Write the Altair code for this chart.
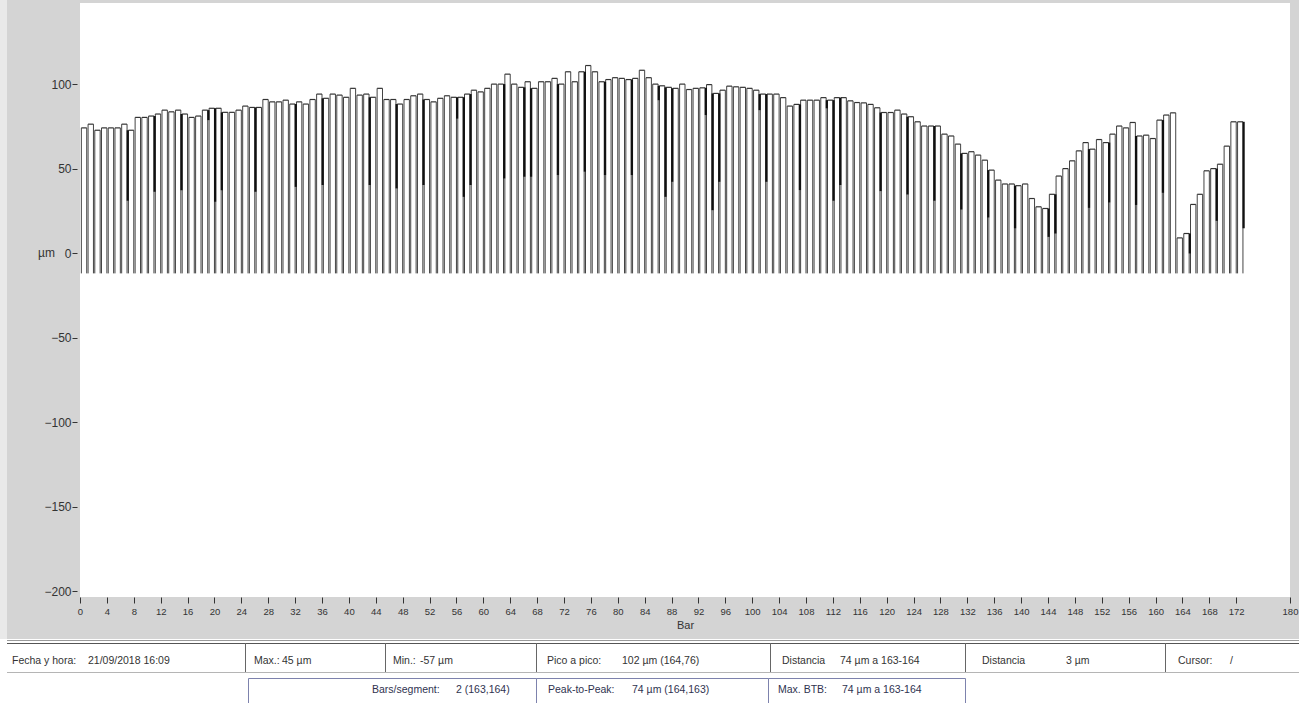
import altair as alt
import pandas as pd

# Bar heights (µm), bars 1..173
bar_values = [
    74.1, 76.3, 72.7, 74.1, 74.1, 74.1, 76.3, 72.7, 80.3, 80.3,
    81.1, 82.3, 84.6, 83.6, 84.6, 82.3, 80.3, 81.1, 84.6, 85.7,
    85.7, 83.3, 83.3, 84.6, 87.0, 86.2, 86.2, 90.9, 89.5, 89.5,
    90.5, 88.2, 89.5, 88.2, 90.9, 94.1, 91.6, 94.1, 93.5, 92.2,
    97.5, 93.5, 94.1, 92.2, 97.5, 90.9, 90.9, 88.2, 90.9, 93.1,
    94.1, 90.9, 89.5, 91.6, 93.1, 92.2, 92.2, 94.1, 96.4, 95.4,
    97.5, 100.0, 100.0, 105.9, 100.0, 98.1, 101.4, 97.5, 101.4, 101.4,
    103.4, 100.0, 107.3, 101.4, 107.3, 111.0, 107.3, 101.4, 102.7, 103.8,
    103.4, 102.7, 103.4, 108.2, 103.8, 100.0, 99.0, 98.1, 97.5, 100.0,
    96.8, 97.5, 97.8, 99.7, 94.5, 96.4, 98.8, 98.4, 98.1, 97.5,
    96.4, 94.1, 94.1, 94.1, 92.0, 87.0, 88.0, 90.5, 90.5, 90.5,
    92.0, 90.5, 92.0, 92.0, 90.1, 89.1, 88.9, 88.0, 86.0, 83.2,
    83.2, 84.6, 82.3, 80.7, 77.7, 75.2, 75.2, 75.2, 70.4, 69.3,
    64.5, 59.0, 60.0, 58.0, 55.0, 49.1, 43.2, 40.9, 40.9, 39.9,
    40.9, 32.3, 27.4, 26.4, 34.8, 45.6, 50.0, 54.6, 60.5, 65.4,
    61.5, 67.2, 65.4, 70.4, 75.2, 74.1, 77.3, 69.3, 69.8, 67.8,
    78.7, 81.7, 83.0, 9.0, 11.6, 28.8, 34.8, 48.7, 50.0, 52.6,
    63.3, 77.7, 77.7,
]
bar_floor = -12.0

# Dark joint lines: drawn between bar k and bar k+1, down to the given level (µm)
joint_after = [
    7, 11, 15, 19, 20, 21, 26, 32, 36, 43,
    47, 51, 56, 57, 58, 63, 66, 67, 71, 75,
    78, 82, 86, 87, 88, 93, 94, 95, 101, 102,
    107, 111, 112, 113, 119, 123, 127, 131, 135, 139,
    144, 145, 150, 153, 157, 161, 165, 169, 173,
]
joint_low = [
    31.0, 36.3, 37.2, 78.7, 30.4, 37.2, 36.3, 39.2, 40.3, 40.3,
    38.3, 40.3, 79.6, 33.3, 40.3, 44.2, 45.2, 45.2, 46.2, 48.2,
    46.2, 46.2, 90.5, 33.3, 42.2, 81.7, 25.4, 42.2, 84.6, 42.2,
    37.3, 85.7, 31.0, 40.3, 36.7, 34.7, 31.0, 25.8, 21.1, 14.7,
    9.6, 11.6, 26.8, 30.0, 28.5, 35.7, -0.2, 19.1, 14.7,
]

y_ticks = [-200, -150, -100, -50, 0, 50, 100]
x_ticks = list(range(0, 173, 4)) + [180]

# Footer read-outs
row1_labels = ["Fecha y hora:", "21/09/2018 16:09", "Max.:", "45 µm", "Min.:", "-57 µm",
               "Pico a pico:", "102 µm (164,76)", "Distancia", "74 µm a 163-164",
               "Distancia", "3 µm", "Cursor:", "/"]
row2_labels = ["Bars/segment:", "2 (163,164)", "Peak-to-Peak:", "74 µm (164,163)",
               "Max. BTB:", "74 µm a 163-164"]

# ---- layout (pixels, relative to the plot area's top-left corner) ----
PLOT_LEFT, PLOT_TOP = 80, 3
W, H = 1210, 594
row1_x = [12, 88, 254, 282, 393, 420, 547, 622, 782, 840, 982, 1066, 1178, 1230]
row2_x = [372, 456, 548, 632, 778, 842]
row1_y, row2_y = 661, 690
row1_seps = [245, 385, 536, 770, 965, 1165]
row2_boxes = [(248, 536), (536, 768), (768, 965)]

FONT = "Liberation Sans"

n = len(bar_values)
bars = pd.DataFrame({
    "bar": list(range(1, n + 1)),
    "value": bar_values,
})
bars["x0"] = bars["bar"] - 0.8
bars["x1"] = bars["bar"] + 0.0
bars["floor"] = bar_floor

joints = pd.DataFrame({"after": joint_after, "low": joint_low})
joints["xe"] = joints["after"] + 0.1
joints["top"] = [
    min(bar_values[k - 1], bar_values[k]) if k < n else bar_values[k - 1]
    for k in joint_after
]

xs = alt.Scale(domain=[0, 180], nice=False, zero=False)
ys = alt.Scale(domain=[-203.5, 148], nice=False, zero=False)

x_axis = alt.Axis(values=x_ticks, title="Bar", grid=False, domain=False,
                  tickSize=6, tickColor="#333", labelFont=FONT, labelFontSize=9.5,
                  labelColor="#333", labelPadding=3, titleFont=FONT,
                  titleFontSize=11, titleFontWeight="normal", titleColor="#333",
                  titlePadding=4, labelFlush=False, labelOverlap=False)
y_axis = alt.Axis(values=y_ticks, title=None, grid=False, domain=False,
                  tickSize=5, tickColor="#333", offset=3, labelFont=FONT,
                  labelFontSize=12, labelColor="#333", labelPadding=1,
                  labelOverlap=False)

base = alt.Chart(bars)

left_edges = base.mark_rule(color="#444", strokeWidth=1).encode(
    x=alt.X("x0:Q", scale=xs, axis=x_axis),
    y=alt.Y("floor:Q", scale=ys, axis=y_axis),
    y2="value:Q",
)
right_edges = base.mark_rule(color="#444", strokeWidth=1).encode(
    x=alt.X("x1:Q", scale=xs, axis=None),
    y=alt.Y("floor:Q", scale=ys, axis=None),
    y2="value:Q",
)
tops = base.mark_rule(color="#333", strokeWidth=1.2).encode(
    x=alt.X("x0:Q", scale=xs, axis=None), x2="x1:Q",
    y=alt.Y("value:Q", scale=ys, axis=None),
)
dark = alt.Chart(joints).mark_rule(color="#111", strokeWidth=2.2).encode(
    x=alt.X("xe:Q", scale=xs, axis=None),
    y=alt.Y("top:Q", scale=ys, axis=None), y2="low:Q",
)

one = pd.DataFrame({"k": [0]})
unit_label = alt.Chart(one).mark_text(font=FONT, fontSize=12, color="#333",
                                      align="left", baseline="middle").encode(
    x=alt.value(38 - PLOT_LEFT), y=alt.Y(datum=0, scale=ys, axis=None),
    text=alt.value("µm"),
)


def px(v):
    return alt.value(v - PLOT_LEFT)


def py(v):
    return alt.value(v - PLOT_TOP)


deco = []
# lighter strip at the window's left edge
deco.append(alt.Chart(one).mark_rect(color="#e9e9e9").encode(
    x=px(0), x2=px(7), y=py(0), y2=py(639)))
# footer backdrop
deco.append(alt.Chart(one).mark_rect(color="#ffffff").encode(
    x=px(0), x2=px(1299), y=py(639), y2=py(703)))
deco.append(alt.Chart(one).mark_rule(color="#9a9a9a", strokeWidth=1).encode(
    x=px(7), x2=px(1299), y=py(640.5)))
deco.append(alt.Chart(one).mark_rule(color="#555", strokeWidth=1).encode(
    x=px(7), x2=px(1299), y=py(643.5)))
deco.append(alt.Chart(one).mark_rule(color="#b5b5b5", strokeWidth=1).encode(
    x=px(7), x2=px(1299), y=py(672.5)))
for sx in row1_seps:
    deco.append(alt.Chart(one).mark_rule(color="#666", strokeWidth=1).encode(
        x=px(sx + 0.5), y=py(643), y2=py(672)))
for bx0, bx1 in row2_boxes:
    deco.append(alt.Chart(one).mark_rect(fill="#ffffff", stroke="#7d82ad",
                                         strokeWidth=1).encode(
        x=px(bx0 + 0.5), x2=px(bx1 + 0.5), y=py(678.5), y2=py(703.5)))

texts = []
for lab, tx in zip(row1_labels, row1_x):
    texts.append(alt.Chart(one).mark_text(font=FONT, fontSize=10.5, color="#333",
                                          align="left", baseline="middle").encode(
        x=px(tx), y=py(row1_y), text=alt.value(lab)))
for lab, tx in zip(row2_labels, row2_x):
    texts.append(alt.Chart(one).mark_text(font=FONT, fontSize=10.5, color="#2f3350",
                                          align="left", baseline="middle").encode(
        x=px(tx), y=py(row2_y), text=alt.value(lab)))

chart = alt.layer(
    *deco, left_edges, right_edges, tops, dark, unit_label, *texts
).resolve_axis(
    x="independent", y="independent"
).properties(
    width=W, height=H,
    autosize=alt.AutoSizeParams(type="none"),
    padding={"left": PLOT_LEFT, "top": PLOT_TOP,
             "right": 1299 - PLOT_LEFT - W, "bottom": 703 - PLOT_TOP - H},
    background="#d4d4d4",
).configure_view(stroke=None, fill="white")

chart.save("out.html", embed_options={"renderer": "svg", "actions": False})
